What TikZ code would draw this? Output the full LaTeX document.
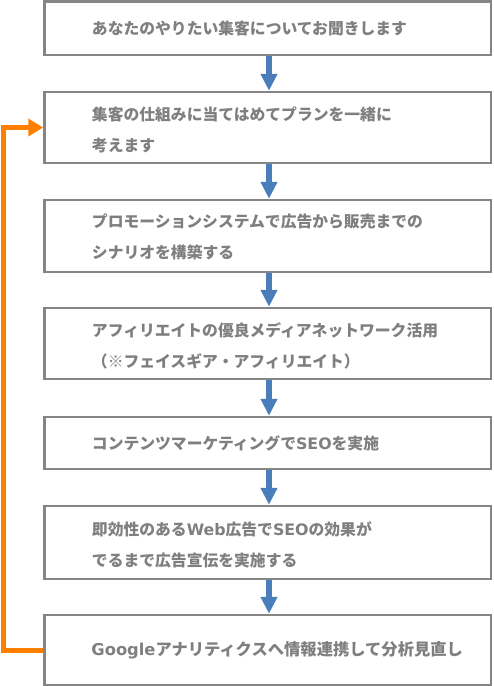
\documentclass[tikz,border=0pt]{standalone}
\usepackage{fontspec}
\setmainfont{Noto Sans CJK JP}
\newfontfamily\lat{DejaVu Sans}
\usetikzlibrary{arrows.meta}
\definecolor{boxgray}{HTML}{858585}
\definecolor{txtgray}{HTML}{7F7F7F}
\definecolor{arrblue}{HTML}{4A7EBB}
\definecolor{looporange}{HTML}{FF8000}
\tikzset{
  stepbox/.style={draw=boxgray, line width=2.5pt, rectangle, inner sep=0pt, minimum width=446.5pt},
  steptext/.style={anchor=west, align=left, inner sep=0pt, text=txtgray,
    font=\fontsize{15.8pt}{31pt}\selectfont\bfseries},
  flowarrow/.style={draw=arrblue, line width=6pt, -{Triangle[width=16pt,length=17pt]}},
  looparrow/.style={draw=looporange, line width=5pt, -{Triangle[width=17pt,length=15pt]}}
}
\begin{document}
\begin{tikzpicture}[x=1pt,y=-1pt]
\useasboundingbox (0,0) rectangle (494,686);
\node[stepbox, minimum height=53.5pt] (b1) at (267.75,28.25) {};
\node[stepbox, minimum height=71pt] (b2) at (267.75,127.5) {};
\node[stepbox, minimum height=72pt] (b3) at (267.75,236) {};
\node[stepbox, minimum height=71pt] (b4) at (267.75,343.5) {};
\node[stepbox, minimum height=52pt] (b5) at (267.75,443) {};
\node[stepbox, minimum height=73pt] (b6) at (267.75,542.5) {};
\node[stepbox, minimum height=70pt] (b7) at (267.75,650) {};

\node[steptext] (t1) at ([xshift=48.5pt]b1.west) {あなたのやりたい集客についてお聞きします};
\node[steptext] (t2) at ([xshift=48.5pt,yshift=-2pt]b2.west) {集客の仕組みに当てはめてプランを一緒に\\考えます};
\node[steptext] (t3) at ([xshift=48.5pt,yshift=-1pt]b3.west) {プロモーションシステムで広告から販売までの\\シナリオを構築する};
\node[steptext] (t4) at ([xshift=48.5pt,yshift=-2pt]b4.west) {アフィリエイトの優良メディアネットワーク活用\\（※フェイスギア・アフィリエイト）};
\node[steptext] (t5) at ([xshift=48.5pt]b5.west) {コンテンツマーケティングで{\lat SEO}を実施};
\node[steptext] (t6) at ([xshift=48.5pt,yshift=-2pt]b6.west) {即効性のある{\lat Web}広告で{\lat SEO}の効果が\\でるまで広告宣伝を実施する};
\node[steptext, font=\fontsize{16.3pt}{31pt}\selectfont\bfseries] (t7) at ([xshift=48pt]b7.west) {{\lat Google}アナリティクスへ情報連携して分析見直し};

\draw[flowarrow] ([xshift=1.25pt]b1.south) -- ([xshift=1.25pt]b2.north);
\draw[flowarrow] ([xshift=1.25pt]b2.south) -- ([xshift=1.25pt]b3.north);
\draw[flowarrow] ([xshift=1.25pt]b3.south) -- ([xshift=1.25pt]b4.north);
\draw[flowarrow] ([xshift=1.25pt]b4.south) -- ([xshift=1.25pt]b5.north);
\draw[flowarrow] ([xshift=1.25pt]b5.south) -- ([xshift=1.25pt]b6.north);
\draw[flowarrow] ([xshift=1.25pt]b6.south) -- ([xshift=1.25pt]b7.north);

\draw[looparrow] (b7.west) -- ++(-40,0) |- (b2.west);
\end{tikzpicture}
\end{document}
